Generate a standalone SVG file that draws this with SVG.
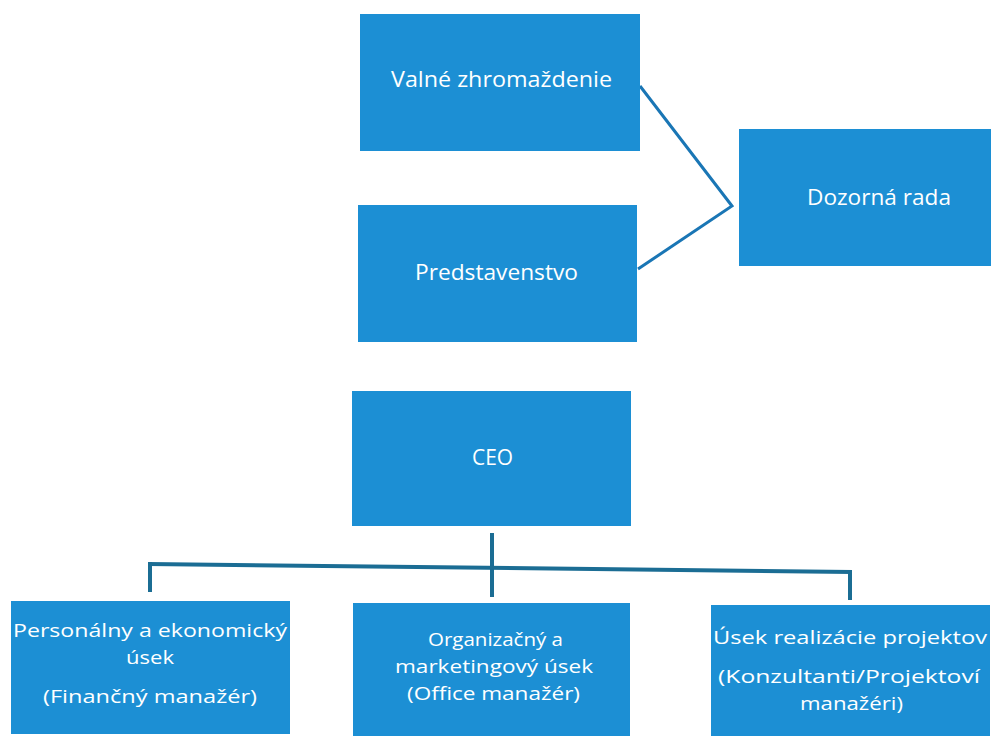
<svg xmlns="http://www.w3.org/2000/svg" width="991" height="736" viewBox="0 0 991 736">
<style>
.box{fill:#1c8fd4}
.t{font-family:"Open Sans","Liberation Sans",sans-serif;fill:#ffffff;text-anchor:middle}
.s{font-size:21px}
.b{font-size:19px}
.c1{fill:none;stroke:#1a76b5;stroke-width:3;stroke-linejoin:miter}
.c2{fill:none;stroke:#1b6d94;stroke-width:4}
</style>
<rect width="991" height="736" fill="#ffffff"/>
<g id="connectors">
<polyline class="c1" points="640,86 732,206 638,269"/>
<line class="c2" x1="492" y1="533" x2="492" y2="597"/>
<line class="c2" x1="148" y1="564" x2="852" y2="572"/>
<line class="c2" x1="150" y1="562" x2="150" y2="592"/>
<line class="c2" x1="850" y1="570" x2="850" y2="600"/>
</g>
<g id="valne">
<rect class="box" x="360" y="14" width="280" height="137"/>
<text class="t s" x="501.5" y="87" textLength="221" lengthAdjust="spacingAndGlyphs">Valné zhromaždenie</text>
</g>
<g id="predstavenstvo">
<rect class="box" x="358" y="205" width="279" height="137"/>
<text class="t s" x="496.5" y="280" textLength="163" lengthAdjust="spacingAndGlyphs">Predstavenstvo</text>
</g>
<g id="dozorna">
<rect class="box" x="739" y="129" width="252" height="137"/>
<text class="t s" x="879" y="205" textLength="144" lengthAdjust="spacingAndGlyphs">Dozorná rada</text>
</g>
<g id="ceo">
<rect class="box" x="352" y="391" width="279" height="135"/>
<text class="t s" x="492.5" y="465" textLength="41" lengthAdjust="spacingAndGlyphs">CEO</text>
</g>
<g id="personalny">
<rect class="box" x="11" y="601" width="279" height="133"/>
<text class="t b" x="150" y="637" textLength="274" lengthAdjust="spacingAndGlyphs">Personálny a ekonomický</text>
<text class="t b" x="150" y="664" textLength="48" lengthAdjust="spacingAndGlyphs">úsek</text>
<text class="t b" x="150" y="703" textLength="214" lengthAdjust="spacingAndGlyphs">(Finančný manažér)</text>
</g>
<g id="organizacny">
<rect class="box" x="353" y="603" width="277" height="133"/>
<text class="t b" x="495.5" y="646" textLength="135" lengthAdjust="spacingAndGlyphs">Organizačný a</text>
<text class="t b" x="494" y="673" textLength="198" lengthAdjust="spacingAndGlyphs">marketingový úsek</text>
<text class="t b" x="493.5" y="700" textLength="173" lengthAdjust="spacingAndGlyphs">(Office manažér)</text>
</g>
<g id="realizacia">
<rect class="box" x="711" y="605" width="279" height="131"/>
<text class="t b" x="850" y="644" textLength="274" lengthAdjust="spacingAndGlyphs">Úsek realizácie projektov</text>
<text class="t b" x="849" y="683" textLength="262" lengthAdjust="spacingAndGlyphs">(Konzultanti/Projektoví</text>
<text class="t b" x="851.5" y="710" textLength="103" lengthAdjust="spacingAndGlyphs">manažéri)</text>
</g>
</svg>
